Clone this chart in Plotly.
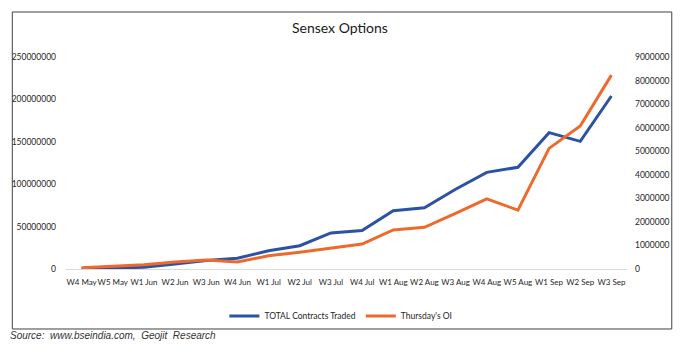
import plotly.graph_objects as go

weeks = ["W4 May", "W5 May", "W1 Jun", "W2 Jun", "W3 Jun", "W4 Jun", "W1 Jul", "W2 Jul",
         "W3 Jul", "W4 Jul", "W1 Aug", "W2 Aug", "W3 Aug", "W4 Aug", "W5 Aug", "W1 Sep",
         "W2 Sep", "W3 Sep"]
total_contracts = [500000, 1000000, 2000000, 6000000, 10000000, 12600000, 21600000, 27500000,
                   42500000, 45500000, 68800000, 72300000, 94000000, 114000000, 120000000,
                   160800000, 150500000, 204000000]
thursday_oi = [50000, 100000, 180000, 300000, 380000, 300000, 560000, 710000, 890000,
               1060000, 1660000, 1770000, 2360000, 2980000, 2500000, 5120000, 6070000, 8230000]

left_ticks = [0, 50000000, 100000000, 150000000, 200000000, 250000000]
right_ticks = [0, 1000000, 2000000, 3000000, 4000000, 5000000, 6000000, 7000000, 8000000, 9000000]

BLUE = "#2c52a2"
ORANGE = "#ee6a2c"
FONT = "Lato"
SMALL = 8.5
TEXT = "#262626"

fig = go.Figure()
fig.add_trace(go.Scatter(x=weeks, y=total_contracts, name="TOTAL Contracts Traded",
                         mode="lines", line=dict(color=BLUE, width=3), yaxis="y"))
fig.add_trace(go.Scatter(x=weeks, y=thursday_oi, name="Thursday's OI",
                         mode="lines", line=dict(color=ORANGE, width=3), yaxis="y2"))

fig.update_layout(
    width=691, height=352,
    margin=dict(l=63, r=64, t=57, b=83),
    paper_bgcolor="white", plot_bgcolor="white",
    font=dict(family=FONT, size=SMALL, color=TEXT),
    title=dict(text="Sensex Options", x=0.492, xanchor="center", y=0.92, yanchor="middle",
               yref="container", font=dict(family=FONT, size=14, color="#1a1a1a")),
    xaxis=dict(type="category", range=[-0.5, 17.5], showgrid=False, zeroline=False,
               showline=True, linecolor="#d9d9d9", linewidth=1, ticks="",
               tickangle=0, ticklabelstandoff=5, tickfont=dict(size=8, color=TEXT)),
    yaxis=dict(range=[0, 250000000], tickvals=left_ticks, tickformat="d", showgrid=False,
               zeroline=False, showline=False, ticks="", ticklabelstandoff=9,
               tickfont=dict(size=SMALL, color=TEXT)),
    yaxis2=dict(range=[0, 9000000], tickvals=right_ticks, tickformat="d", overlaying="y",
                side="right", showgrid=False, zeroline=False, showline=False, ticks="",
                ticklabelstandoff=7, tickfont=dict(size=SMALL, color=TEXT)),
    showlegend=True,
    legend=dict(orientation="h", x=0.49, xanchor="center", y=-0.222, yanchor="middle",
                font=dict(size=SMALL, color=TEXT), itemwidth=30, tracegroupgap=0,
                bgcolor="rgba(0,0,0,0)"),
    shapes=[dict(type="rect", xref="paper", yref="paper", x0=-0.0957, x1=1.0798,
                 y0=-0.283, y1=1.2123, line=dict(color="#404040", width=1))],
    annotations=[dict(text="<i>Source:  www.bseindia.com,  Geojit  Research</i>",
                      xref="paper", yref="paper", x=-0.104, y=-0.316, xanchor="left",
                      yanchor="middle", showarrow=False,
                      font=dict(family="Liberation Sans", size=10, color="#333333"))],
)

fig.write_html("out.html")
